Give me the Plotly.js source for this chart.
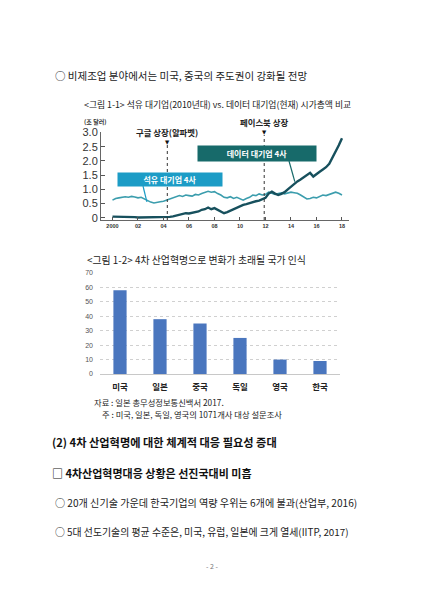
<!DOCTYPE html>
<html><head><meta charset="utf-8">
<script src="https://cdn.plot.ly/plotly-3.0.1.min.js"></script>
<style>html,body{margin:0;padding:0;background:#fff}#c{width:424px;height:600px}</style>
</head><body><div id="c"></div>
<script>
// ---- Figure 1-1 data (trillion USD market cap) ----
var years = [];
for (var q = 0; q <= 72; q++) years.push(2000 + q * 0.25);
var oilMajors = [0.62,0.68,0.70,0.72, 0.74,0.72,0.75,0.73, 0.70,0.72,0.66,0.60, 0.55,0.52,0.55,0.56,
  0.58,0.62,0.65,0.68, 0.72,0.78,0.75,0.80, 0.78,0.76,0.82,0.80, 0.85,0.88,0.93,0.90,
  0.92,0.85,0.80,0.72, 0.70,0.74,0.68,0.72, 0.66,0.62,0.68,0.72, 0.80,0.78,0.84,0.80,
  0.82,0.90,0.86,0.82, 0.85,0.88,0.84,0.88, 0.90,0.88,0.86,0.80, 0.72,0.66,0.68,0.72,
  0.70,0.76,0.80,0.78, 0.82,0.84,0.90,0.86, 0.80];
var dataMajors = [0.04,0.04,0.03,0.03, 0.03,0.02,0.02,0.02, 0.01,0.01,0.01,0.01, 0.01,0.01,0.01,0.02,
  0.02,0.02,0.03,0.05, 0.08,0.12,0.15,0.16, 0.15,0.18,0.20,0.22, 0.28,0.30,0.36,0.30,
  0.34,0.28,0.20,0.16, 0.20,0.25,0.32,0.36, 0.40,0.45,0.48,0.52, 0.55,0.58,0.60,0.64,
  0.70,0.85,0.92,0.85, 0.80,0.84,0.90,1.00, 1.10,1.20,1.28,1.35, 1.42,1.50,1.58,1.45,
  1.55,1.62,1.70,1.78, 1.90,2.10,2.35,2.55, 2.80];
var yTickVals = [0, 0.5, 1.0, 1.5, 2.0, 2.5, 3.0];
var yTickText = ["0", "0.5", "1.0", "1.5", "2.0", "2.5", "3.0"];
var xTickVals = [2000, 2002, 2004, 2006, 2008, 2010, 2012, 2014, 2016, 2018];
var xTickText = ["2000", "02", "04", "06", "08", "10", "12", "14", "16", "18"];
var eventYears = [2004.3, 2011.9];
var eventLabels = ["구글 상장(알파벳)", "페이스북 상장"];
var seriesNames = ["석유 대기업 4사", "데이터 대기업 4사"];
var pointerYears = [2002.7, 2014.3];   // where each label's pointer touches its line
var pointerValues = [0.56, 1.27];

// ---- Figure 1-2 data (%) ----
var countries = ["미국", "일본", "중국", "독일", "영국", "한국"];
var perception = [58, 38, 35, 25, 10, 9];

// ---- Page text ----
var topLine = "○ 비제조업 분야에서는 미국, 중국의 주도권이 강화될 전망";
var cap1 = "<그림 1-1> 석유 대기업(2010년대) vs. 데이터 대기업(현재) 시가총액 비교";
var unit1 = "(조 달러)";
var cap2 = "<그림 1-2> 4차 산업혁명으로 변화가 초래될 국가 인식";
var src2 = "자료 : 일본 총무성정보통신백서 2017.";
var note2 = "주 : 미국, 일본, 독일, 영국의 1071개사 대상 설문조사";
var head2 = "(2) 4차 산업혁명에 대한 체계적 대응 필요성 증대";
var box2 = "□ 4차산업혁명대응 상황은 선진국대비 미흡";
var bullet1 = "○ 20개 신기술 가운데 한국기업의 역량 우위는 6개에 불과(산업부, 2016)";
var bullet2 = "○ 5대 선도기술의 평균 수준은, 미국, 유럽, 일본에 크게 열세(IITP, 2017)";
var pageNo = "- 2 -";

var W = 424, H = 600;
function px(x) { return x / W; }
function py(y) { return 1 - y / H; }
var FONT = "Noto Sans CJK KR, Noto Sans, sans-serif";

var L = {x0: 101, x1: 349, y0: 220, y1: 132, xr: [1999.1, 2018.55], yr: [-0.08, 3.02]};

var traces = [
  {x: years, y: oilMajors, type: "scatter", mode: "lines", xaxis: "x", yaxis: "y",
   line: {color: "#3b9dad", width: 1.6}, hoverinfo: "skip"},
  {x: years, y: dataMajors, type: "scatter", mode: "lines", xaxis: "x", yaxis: "y",
   line: {color: "#17505d", width: 2.4}, hoverinfo: "skip"},
  {x: countries, y: perception, type: "bar", xaxis: "x2", yaxis: "y2",
   marker: {color: "#4a76be"}, hoverinfo: "skip"}
];

function txt(t, x, y, size, opts) {
  var a = {text: t, xref: "paper", yref: "paper", x: px(x), y: py(y), xanchor: "left", yanchor: "middle",
    showarrow: false, font: {family: FONT, size: size, color: "#222"}};
  if (opts) for (var k in opts) a[k] = opts[k];
  return a;
}
function bold(size, color) { return {family: FONT, size: size, color: color || "#111", weight: 700}; }

var annotations = [
  txt(topLine, 53, 75, 10.5),
  txt(cap1, 82, 104, 8.8),
  txt(unit1, 82, 121, 6, {font: bold(6, "#333")}),
  txt(cap2, 85, 260, 9.9),
  txt(src2, 92, 401.5, 8.3),
  txt(note2, 100, 414, 8.3),
  txt(head2, 50, 442, 11.2, {font: bold(11.2)}),
  txt(box2, 50, 473, 11, {font: bold(11)}),
  txt(bullet1, 53, 502, 10.1),
  txt(bullet2, 53, 532, 9.9),
  txt(pageNo, 212, 566, 7, {xanchor: "center", font: {family: FONT, size: 7, color: "#777"}})
];
var evLabelPy = [132, 122], evTriPy = [142, 132];
for (var i = 0; i < eventYears.length; i++) {
  annotations.push({text: eventLabels[i], xref: "x", yref: "paper", x: eventYears[i], y: py(evLabelPy[i]),
    xanchor: "center", yanchor: "middle", showarrow: false, font: bold(8.4, "#222")});
  annotations.push({text: "▼", xref: "x", yref: "paper", x: eventYears[i], y: py(evTriPy[i]),
    xanchor: "center", yanchor: "middle", showarrow: false,
    font: {family: "DejaVu Sans", size: 5.5, color: "#111"}});
}
// series label boxes (pixel placement) with pointer lines to their series
var boxColors = ["#1c9cc6", "#176a6a"];
var boxCenter = [[169.5, 179.5], [257, 153]], boxSize = [[104, 13], [118, 15]];
var pointerStart = [[143, 186], [289, 161]];
var shapes = [];
for (var b = 0; b < 2; b++) {
  shapes.push({type: "line", xref: "paper", yref: "paper", x0: px(pointerStart[b][0]), y0: py(pointerStart[b][1]),
    x1: px(L.x0 + (pointerYears[b] - L.xr[0]) / (L.xr[1] - L.xr[0]) * (L.x1 - L.x0)),
    y1: py(L.y0 - (pointerValues[b] - L.yr[0]) / (L.yr[1] - L.yr[0]) * (L.y0 - L.y1)),
    line: {color: boxColors[b], width: 1.2}});
  annotations.push({text: "<b>" + seriesNames[b] + "</b>", xref: "paper", yref: "paper",
    x: px(boxCenter[b][0]), y: py(boxCenter[b][1]), xanchor: "center", yanchor: "middle", showarrow: false,
    bgcolor: boxColors[b], width: boxSize[b][0], height: boxSize[b][1], borderpad: 0,
    font: {family: FONT, size: 8, color: "#fff"}});
}
for (var j = 0; j < eventYears.length; j++) {
  shapes.push({type: "line", xref: "x", yref: "paper", x0: eventYears[j], x1: eventYears[j],
    y0: py(220), y1: py(evTriPy[j] + 3), line: {color: "#333", width: 1, dash: "dot"}});
}

var layout = {
  width: W, height: H, margin: {l: 0, r: 0, t: 0, b: 0},
  paper_bgcolor: "#fff", plot_bgcolor: "rgba(0,0,0,0)", showlegend: false,
  font: {family: FONT},
  xaxis: {domain: [px(L.x0), px(L.x1)], range: L.xr, anchor: "y",
    tickvals: xTickVals, ticktext: xTickText, ticks: "inside", ticklen: 3, tickcolor: "#555",
    showline: true, linecolor: "#666", linewidth: 1, showgrid: false, zeroline: false,
    tickfont: {family: "Liberation Sans", size: 5.5, color: "#333", weight: 700}},
  yaxis: {domain: [py(L.y0), py(L.y1)], range: L.yr, anchor: "x",
    tickvals: yTickVals, ticktext: yTickText, ticks: "inside", ticklen: 4, tickcolor: "#555",
    showline: true, linecolor: "#666", linewidth: 1, showgrid: false, zeroline: false,
    tickfont: {family: "Liberation Sans", size: 11, color: "#333"}},
  xaxis2: {domain: [px(100), px(340)], anchor: "y2", showline: false, ticks: "",
    ticklabelstandoff: 6, tickfont: bold(8.5, "#222")},
  yaxis2: {domain: [py(374), py(273)], range: [0, 70], anchor: "x2", dtick: 10,
    showgrid: true, gridcolor: "#d0d0d0", griddash: "dot", gridwidth: 1,
    zeroline: true, zerolinecolor: "#c8c8c8", zerolinewidth: 1, showline: false,
    ticklabelstandoff: 6, tickfont: {family: "Liberation Sans", size: 7, color: "#555"}},
  bargap: 0.67,
  annotations: annotations, shapes: shapes
};
Plotly.newPlot("c", traces, layout, {staticPlot: true, displayModeBar: false});
</script></body></html>
